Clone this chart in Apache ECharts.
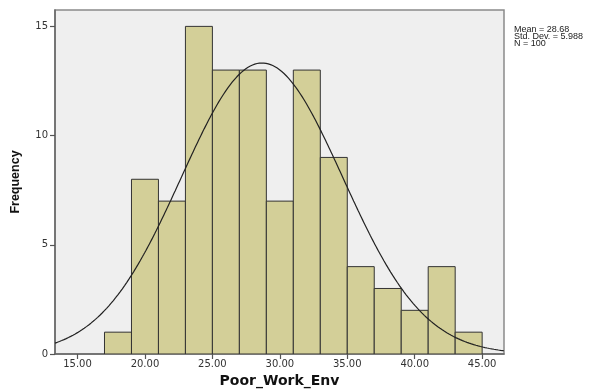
<!DOCTYPE html>
<html><head><meta charset="utf-8">
<script src="https://cdn.jsdelivr.net/npm/echarts@6/dist/echarts.min.js"></script>
<style>html,body{margin:0;padding:0;background:#fff}#c{width:606px;height:389px}</style>
</head><body><div id="c"></div>
<script>
// Histogram bins (lower edge) and frequencies
const binStarts = [17,19,21,23,25,27,29,31,33,35,37,39,41,43];
const binWidth = 2;
const counts = [1,8,7,15,13,13,7,13,9,4,3,2,4,1];
const xTicks = [15,20,25,30,35,40,45];
const yTicks = [0,5,10,15];
const statMean = 28.68, statSD = 5.988, statN = 100;
const statLines = ['Mean = 28.68','Std. Dev. = 5.988','N = 100'];

const xMin = 13.33, xMax = 46.62, yMax = 15.75;

const barData = binStarts.map((s,i)=>[s, s+binWidth, counts[i]]);
// fitted normal curve from the stated mean, sd and N
const curve = [];
for (let k=0;k<=400;k++){
  const x = xMin + (xMax-xMin)*k/400;
  const z = (x-statMean)/statSD;
  curve.push([x, statN*binWidth/(statSD*Math.sqrt(2*Math.PI))*Math.exp(-0.5*z*z)]);
}

const chart = echarts.init(document.getElementById('c'));
chart.setOption({
  animation:false,
  backgroundColor:'#fff',
  grid:{left:55,top:10,right:102,bottom:35,outerBoundsMode:'none',containLabel:false,show:true,backgroundColor:'#efefef',borderColor:'#8a8a8a',borderWidth:1.5},
  xAxis:{type:'value',min:xMin,max:xMax,
    name:'Poor_Work_Env',nameLocation:'middle',nameGap:17,
    nameTextStyle:{fontFamily:'DejaVu Sans',fontWeight:'bold',fontSize:14,color:'#111'},
    axisLine:{show:true,lineStyle:{color:'#666',width:1.5}},
    axisTick:{show:true,length:5,customValues:xTicks,lineStyle:{color:'#555',width:1.2}},
    axisLabel:{customValues:xTicks,formatter:v=>v.toFixed(2),fontFamily:'DejaVu Sans',fontSize:10,color:'#333',margin:5},
    splitLine:{show:false}},
  yAxis:{type:'value',min:0,max:yMax,
    name:'Frequency',nameLocation:'middle',nameGap:33,nameRotate:90,
    nameTextStyle:{fontFamily:'Liberation Sans',fontWeight:'bold',fontSize:12.5,color:'#111'},
    axisLine:{show:true,lineStyle:{color:'#666',width:1.5}},
    axisTick:{show:true,length:5,customValues:yTicks,lineStyle:{color:'#555',width:1.2}},
    axisLabel:{customValues:yTicks,fontFamily:'DejaVu Sans',fontSize:10,color:'#333',margin:7},
    splitLine:{show:false}},
  graphic:[{type:'text',x:514,y:26,scaleX:1,scaleY:1,style:{text:statLines.join('\n'),fontFamily:'Liberation Sans',fontSize:9,lineHeight:7,fill:'#222'}}],
  series:[
    {type:'custom',data:barData,clip:true,
      renderItem:(params,api)=>{
        const p0 = api.coord([api.value(0),0]);
        const p1 = api.coord([api.value(1),api.value(2)]);
        return {type:'rect',shape:{x:p0[0],y:p1[1],width:p1[0]-p0[0],height:p0[1]-p1[1]},
          style:{fill:'#d3cf98',stroke:'#333',lineWidth:1}};
      }},
    {type:'line',data:curve,showSymbol:false,smooth:false,lineStyle:{color:'#222',width:1.2},z:5}
  ]
});
</script></body></html>
